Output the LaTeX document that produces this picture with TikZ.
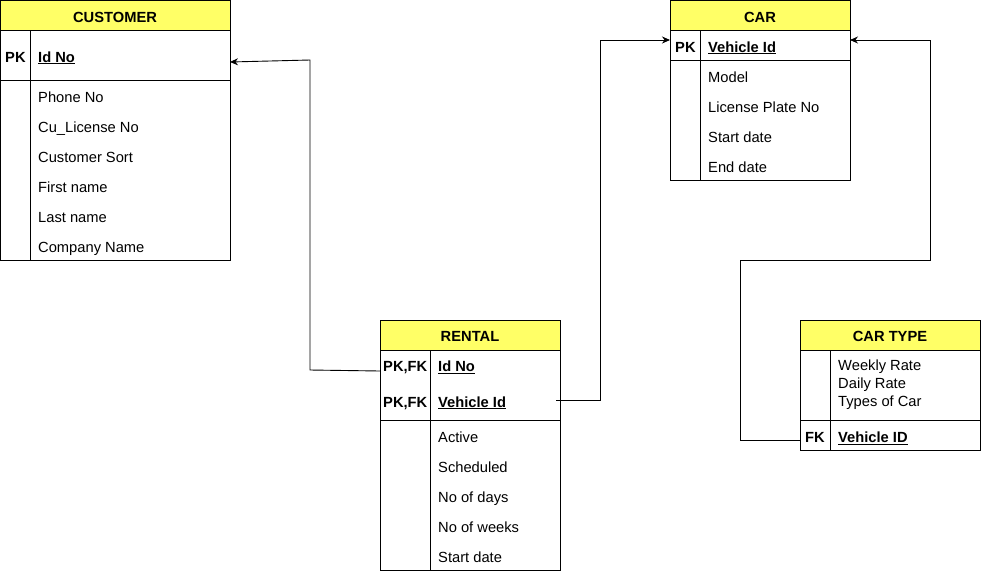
\documentclass[tikz,border=0pt]{standalone}
\usepackage{fontspec}
\setmainfont{Liberation Sans}
\usetikzlibrary{arrows.meta}
\definecolor{hdr}{HTML}{FFFF66}
\tikzset{
  x=1pt,y=-1pt,
  ln/.style={line width=0.9pt},
  ttl/.style={anchor=base,inner sep=0pt,font=\fontsize{14.7}{18}\selectfont\bfseries},
  key/.style={anchor=base west,inner sep=0pt,font=\fontsize{14.7}{18}\selectfont\bfseries},
  att/.style={anchor=base west,inner sep=0pt,font=\fontsize{14.7}{18}\selectfont},
  conn/.style={line width=0.9pt,-{Stealth[length=8pt,width=7pt]}},
}
\newcommand{\ul}[1]{\underline{#1}}
\begin{document}
\begin{tikzpicture}
\useasboundingbox (0,0) rectangle (981,571);
% ---------- CUSTOMER ----------
\fill[hdr] (0.5,0.5) rectangle (230,30);
\draw[ln] (0.5,0.5) rectangle (230,260);
\draw[ln] (0.5,30) -- (230,30);
\draw[ln] (0.5,80) -- (230,80);
\draw[ln] (30,30) -- (30,260);
\node[ttl] (custT) at (115,22) {CUSTOMER};
\node[key] (custPK) at (5,62) {PK};
\node[key] (custId) at (38,62) {\ul{Id No}};
\node[att] (c1) at (38,102) {Phone No};
\node[att] (c2) at (38,132) {Cu\_License No};
\node[att] (c3) at (38,162) {Customer Sort};
\node[att] (c4) at (38,192) {First name};
\node[att] (c5) at (38,222) {Last name};
\node[att] (c6) at (38,252) {Company Name};
\coordinate (custIn) at (230,62);
% ---------- CAR ----------
\fill[hdr] (670,0.5) rectangle (850,30);
\draw[ln] (670,0.5) rectangle (850,180);
\draw[ln] (670,30) -- (850,30);
\draw[ln] (670,60) -- (850,60);
\draw[ln] (700,30) -- (700,180);
\node[ttl] (carT) at (760,22) {CAR};
\node[key] (carPK) at (675,52) {PK};
\node[key] (carId) at (708,52) {\ul{Vehicle Id}};
\node[att] (a1) at (708,82) {Model};
\node[att] (a2) at (708,112) {License Plate No};
\node[att] (a3) at (708,142) {Start date};
\node[att] (a4) at (708,172) {End date};
\coordinate (carInL) at (670,40);
\coordinate (carInR) at (850,40);
% ---------- RENTAL ----------
\fill[hdr] (380,320) rectangle (560,350);
\draw[ln] (380,320) rectangle (560,570);
\draw[ln] (380,350) -- (560,350);
\draw[ln] (380,420) -- (560,420);
\draw[ln] (430,350) -- (430,570);
\node[ttl] (renT) at (470,341) {RENTAL};
\node[key] (renPK1) at (383,371.5) {PK,FK};
\node[key] (renId) at (438,371.5) {\ul{Id No}};
\node[key] (renPK2) at (383,407) {PK,FK};
\node[key] (renVid) at (438,407) {\ul{Vehicle Id}};
\node[att] (r1) at (438,442) {Active};
\node[att] (r2) at (438,472) {Scheduled};
\node[att] (r3) at (438,502) {No of days};
\node[att] (r4) at (438,532) {No of weeks};
\node[att] (r5) at (438,562) {Start date};
\coordinate (renOutL) at (380,371);
\coordinate (renOutR) at (556,400);
% ---------- CAR TYPE ----------
\fill[hdr] (800,320) rectangle (980,350);
\draw[ln] (800,320) rectangle (980,450);
\draw[ln] (800,350) -- (980,350);
\draw[ln] (800,420) -- (980,420);
\draw[ln] (830,350) -- (830,450);
\node[ttl] (ctT) at (890,341.5) {CAR TYPE};
\node[att] (t1) at (838,370.7) {Weekly Rate};
\node[att] (t2) at (838,388.7) {Daily Rate};
\node[att] (t3) at (838,406.7) {Types of Car};
\node[key] (ctFK) at (805,442.5) {FK};
\node[key] (ctVid) at (838,442.5) {\ul{Vehicle ID}};
\coordinate (ctOut) at (800,440);
% ---------- connectors ----------
\draw[conn] (renOutL) -- (310,370) -- (310,60) -- (custIn);
\draw[conn] (renOutR) -- (600,400) -- (600,40) -- (carInL);
\draw[conn] (ctOut) -- (740,440) -- (740,260) -- (930,260) -- (930,40) -- (carInR);
\end{tikzpicture}
\end{document}
